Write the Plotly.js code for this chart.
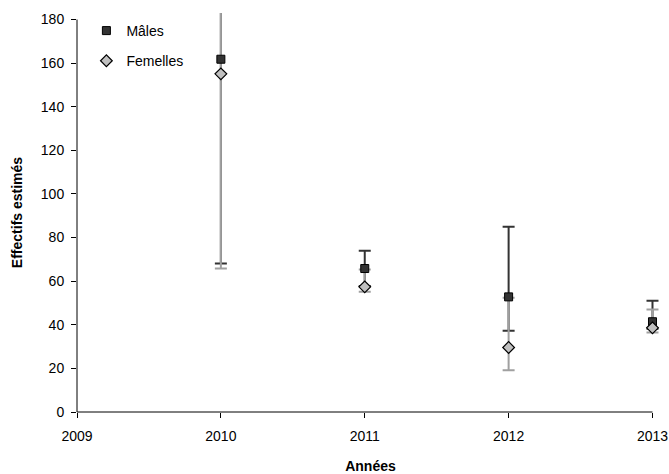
<!DOCTYPE html>
<html>
<head>
<meta charset="utf-8">
<script src="https://cdn.plot.ly/plotly-3.0.1.min.js"></script>
<style>html,body{margin:0;padding:0;background:#fff;}#chart{width:669px;height:474px;}</style>
</head>
<body>
<div id="chart"></div>
<script>
// Data
var years = [2010, 2011, 2012, 2013];
var tickYears = [2009, 2010, 2011, 2012, 2013];
var yTicks = [0, 20, 40, 60, 80, 100, 120, 140, 160, 180];
var malesValue = [161.8, 65.8, 52.8, 41.4];
var malesUpper = [260, 73.9, 85.0, 51.0];
var malesLower = [68.1, 57.8, 37.3, 38.2];
var femalesValue = [155.1, 57.4, 29.6, 38.6];
var femalesUpper = [260, 65.4, 52.4, 47.0];
var femalesLower = [65.8, 55.1, 19.2, 36.5];

function diff(a, b) { return a.map(function (v, i) { return v - b[i]; }); }

var errTrace = function (vals, up, lo, color, name) {
  return {
    x: years, y: vals, type: 'scatter', mode: 'markers', name: name,
    showlegend: false, hoverinfo: 'skip',
    marker: {size: 1, opacity: 0},
    error_y: {type: 'data', symmetric: false, array: diff(up, vals), arrayminus: diff(vals, lo),
              color: color, thickness: 2, width: 6}
  };
};

var traces = [
  errTrace(malesValue, malesUpper, malesLower, '#333333', 'mErr'),
  errTrace(femalesValue, femalesUpper, femalesLower, '#a0a0a0', 'fErr'),
  {x: years, y: malesValue, type: 'scatter', mode: 'markers', name: 'Mâles', cliponaxis: false,
   legendgroup: 'm',
   marker: {symbol: 'square', size: 8, color: '#333333', line: {color: '#000000', width: 1}}},
  {x: years, y: femalesValue, type: 'scatter', mode: 'markers', name: 'Femelles', cliponaxis: false,
   legendgroup: 'f',
   marker: {symbol: 'diamond', size: 9, color: '#c0c0c0', line: {color: '#000000', width: 1.2}}}
];

var layout = {
  width: 669, height: 474,
  margin: {l: 77, r: 4.5, t: 12.5, b: 62},
  paper_bgcolor: '#ffffff', plot_bgcolor: '#ffffff',
  font: {family: 'Arial, "Liberation Sans", sans-serif', size: 14, color: '#000000'},
  showlegend: true,
  legend: {x: 0.016, y: 0.995, xanchor: 'left', yanchor: 'top', bgcolor: 'rgba(0,0,0,0)',
           font: {size: 14}, tracegroupgap: 9, itemwidth: 30},
  xaxis: {range: [2009, 2013.08], tickvals: tickYears, ticktext: tickYears.map(String),
          ticks: 'outside', ticklen: 5, tickcolor: '#000', showline: false,
          showgrid: false, zeroline: false, ticklabelstandoff: 6,
          title: {text: '<b>Années</b>', font: {size: 14}, standoff: 18}},
  yaxis: {range: [0, 183], tickvals: yTicks, ticks: 'outside', ticklen: 5, tickcolor: '#000',
          showline: false, showgrid: false, zeroline: false, ticklabelstandoff: 4,
          title: {text: '<b>Effectifs estimés</b>', font: {size: 14}, standoff: 14}},
  shapes: [
    {type: 'line', xref: 'x', yref: 'paper', x0: tickYears[0], x1: tickYears[tickYears.length - 1], y0: 0, y1: 0,
     line: {color: '#000', width: 1}, layer: 'above'},
    {type: 'line', xref: 'paper', yref: 'y', x0: 0, x1: 0, y0: yTicks[0], y1: yTicks[yTicks.length - 1],
     line: {color: '#000', width: 1}, layer: 'above'}
  ]
};

Plotly.newPlot('chart', traces, layout, {displayModeBar: false, staticPlot: true});
</script>
</body>
</html>
